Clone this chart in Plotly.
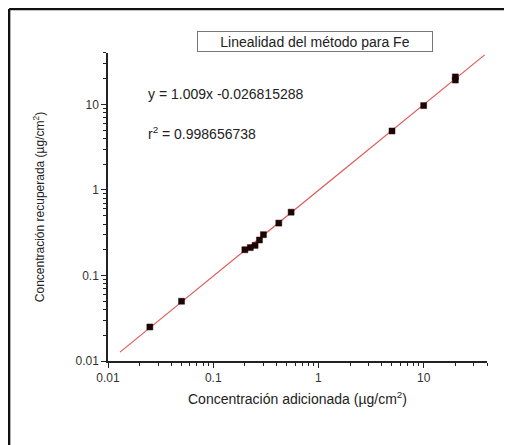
import plotly.graph_objects as go

# Data
x_added = [0.025, 0.05, 0.2, 0.225, 0.25, 0.275, 0.3, 0.42, 0.55, 5, 10, 20, 20]
y_recovered = [0.025, 0.05, 0.2, 0.212, 0.225, 0.26, 0.3, 0.41, 0.55, 4.9, 9.7, 19.3, 21]
fit_x = [0.013, 38]
fit_y = [0.0127, 38]
tick_vals = [0.01, 0.1, 1, 10]
tick_text = ["0.01", "0.1", "1", "10"]

FONT = "Liberation Sans, Arial, sans-serif"

fig = go.Figure()
fig.add_trace(go.Scatter(x=fit_x, y=fit_y, mode="lines",
                         line=dict(color="#e05a5a", width=1.2), showlegend=False))
fig.add_trace(go.Scatter(x=x_added, y=y_recovered, mode="markers",
                         marker=dict(symbol="square", size=6, color="#1a0505",
                                     line=dict(color="#300000", width=0.5)),
                         showlegend=False))

axis_common = dict(
    type="log", range=[-2, 1.602], showgrid=False, zeroline=False,
    showline=True, linecolor="#222", linewidth=1.5,
    ticks="outside", ticklen=5, tickwidth=1.2, tickcolor="#222",
    tickvals=tick_vals, ticktext=tick_text,
    tickfont=dict(family=FONT, size=12, color="#333"),
    minor=dict(ticks="outside", ticklen=3, tickwidth=1, tickcolor="#222",
               dtick="D1", showgrid=False),
)

fig.update_xaxes(**axis_common,
                 title=dict(text="Concentración adicionada (µg/cm<sup>2</sup>)",
                            font=dict(family=FONT, size=14, color="#222"), standoff=10))
fig.update_yaxes(**axis_common,
                 title=dict(text="Concentración recuperada (µg/cm<sup>2</sup>)",
                            font=dict(family=FONT, size=12, color="#222"), standoff=28))

fig.add_annotation(xref="paper", yref="paper", x=0.546, y=1.036,
                   text="Linealidad del método para Fe", showarrow=False,
                   font=dict(family=FONT, size=14, color="#222"),
                   bordercolor="#777", borderwidth=1, borderpad=1,
                   bgcolor="white", xanchor="center", yanchor="middle",
                   width=232, height=17)
fig.add_annotation(xref="paper", yref="paper", x=0.1, y=0.868,
                   text="y = 1.009x -0.026815288", showarrow=False,
                   font=dict(family=FONT, size=14, color="#222"),
                   xanchor="left", yanchor="middle")
fig.add_annotation(xref="paper", yref="paper", x=0.1, y=0.74,
                   text="r<sup>2</sup> = 0.998656738", showarrow=False,
                   font=dict(family=FONT, size=14, color="#222"),
                   xanchor="left", yanchor="middle")

# Outer frame: top and left edges only
fig.add_shape(type="line", xref="paper", yref="paper",
              x0=-0.261, x1=1.07, y0=1.143, y1=1.143,
              line=dict(color="#111", width=2.5))
fig.add_shape(type="line", xref="paper", yref="paper",
              x0=-0.261, x1=-0.261, y0=1.143, y1=-0.3,
              line=dict(color="#111", width=2.5))

fig.update_layout(
    width=504, height=437,
    margin=dict(l=100, r=25, t=45, b=84),
    paper_bgcolor="white", plot_bgcolor="white",
    font=dict(family=FONT),
)

fig.write_html("out.html")
